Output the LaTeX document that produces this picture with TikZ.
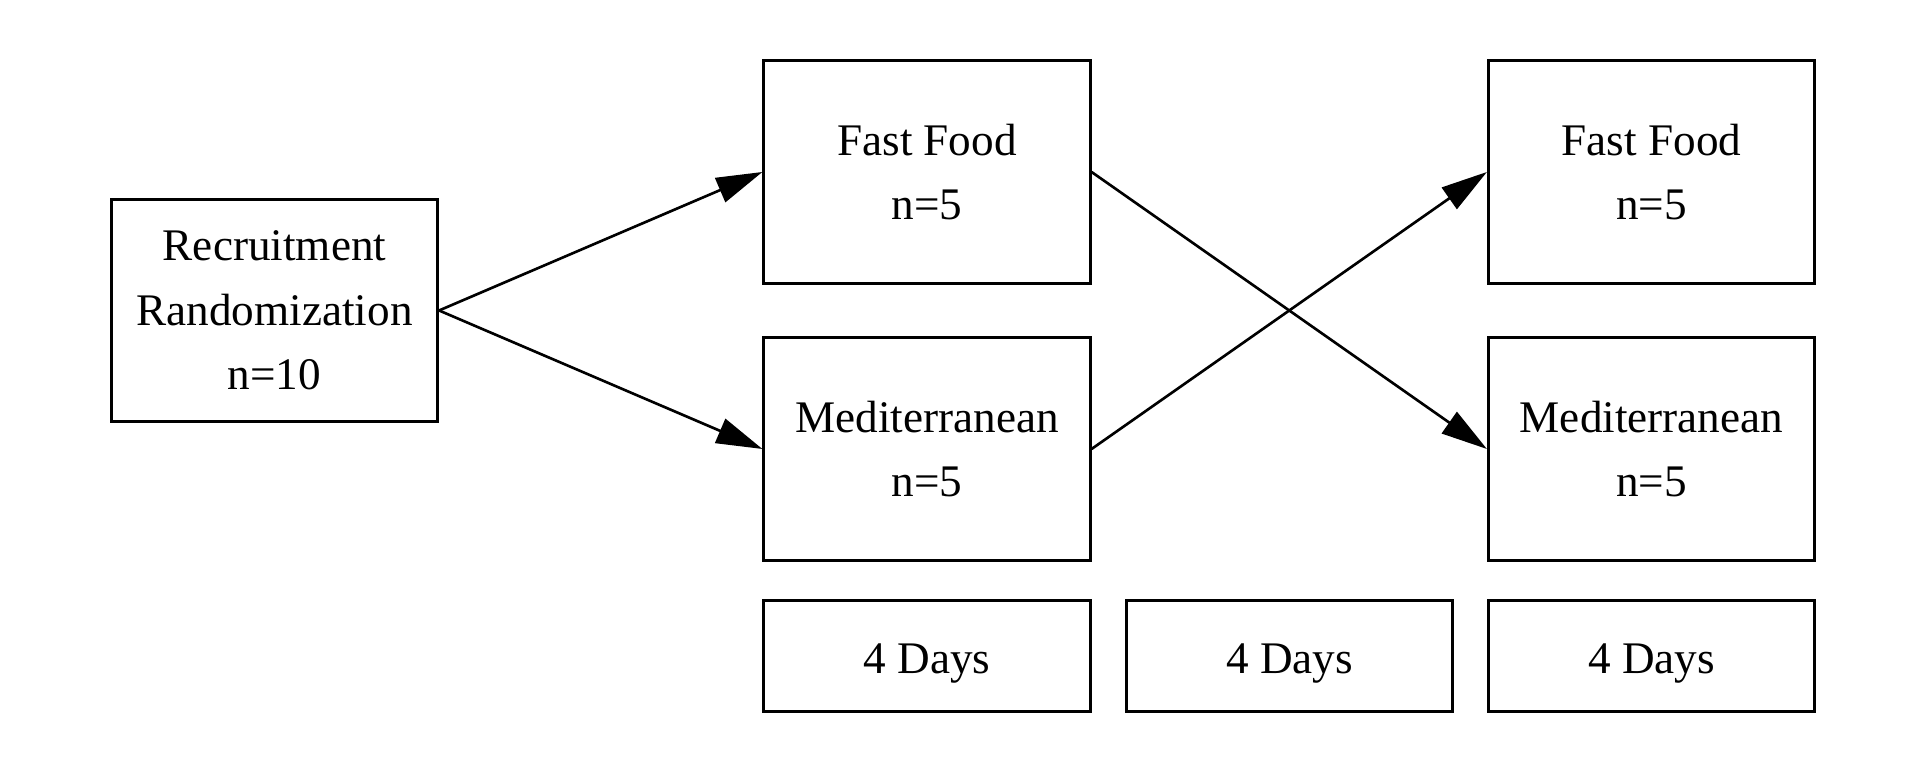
\documentclass[tikz,border=0pt]{standalone}
\usepackage{fontspec}
\setmainfont{Liberation Serif}
\usetikzlibrary{arrows.meta}
\begin{document}
\begin{tikzpicture}[x=0.01cm,y=-0.01cm,
  box/.style={draw=black,line width=0.85pt,inner sep=0pt,align=center,
    minimum width=3.26cm,minimum height=2.22cm,
    font=\fontsize{12.85}{18.4}\selectfont},
  daybox/.style={box,minimum height=1.10cm,text height=0.36cm,text depth=0pt},
  conn/.style={draw=black,line width=0.75pt,-{Triangle[length=0.46cm,width=0.26cm]}}]
\useasboundingbox (0,0) rectangle (1920,768);
\node[box] (R) at (274.5,310.5) {Recruitment\\Randomization\\n=10};
\node[box] (F1) at (927,172) {Fast Food\\n=5};
\node[box] (M1) at (927,449) {Mediterranean\\n=5};
\node[box] (F2) at (1651.5,172) {Fast Food\\n=5};
\node[box] (M2) at (1651.5,449) {Mediterranean\\n=5};
\node[daybox] (D1) at (927,656) {4 Days};
\node[daybox] (D2) at (1289.5,656) {4 Days};
\node[daybox] (D3) at (1651.5,656) {4 Days};
\draw[conn] (R.east) -- (F1.west);
\draw[conn] (R.east) -- (M1.west);
\draw[conn] (F1.east) -- (M2.west);
\draw[conn] (M1.east) -- (F2.west);
\end{tikzpicture}
\end{document}
